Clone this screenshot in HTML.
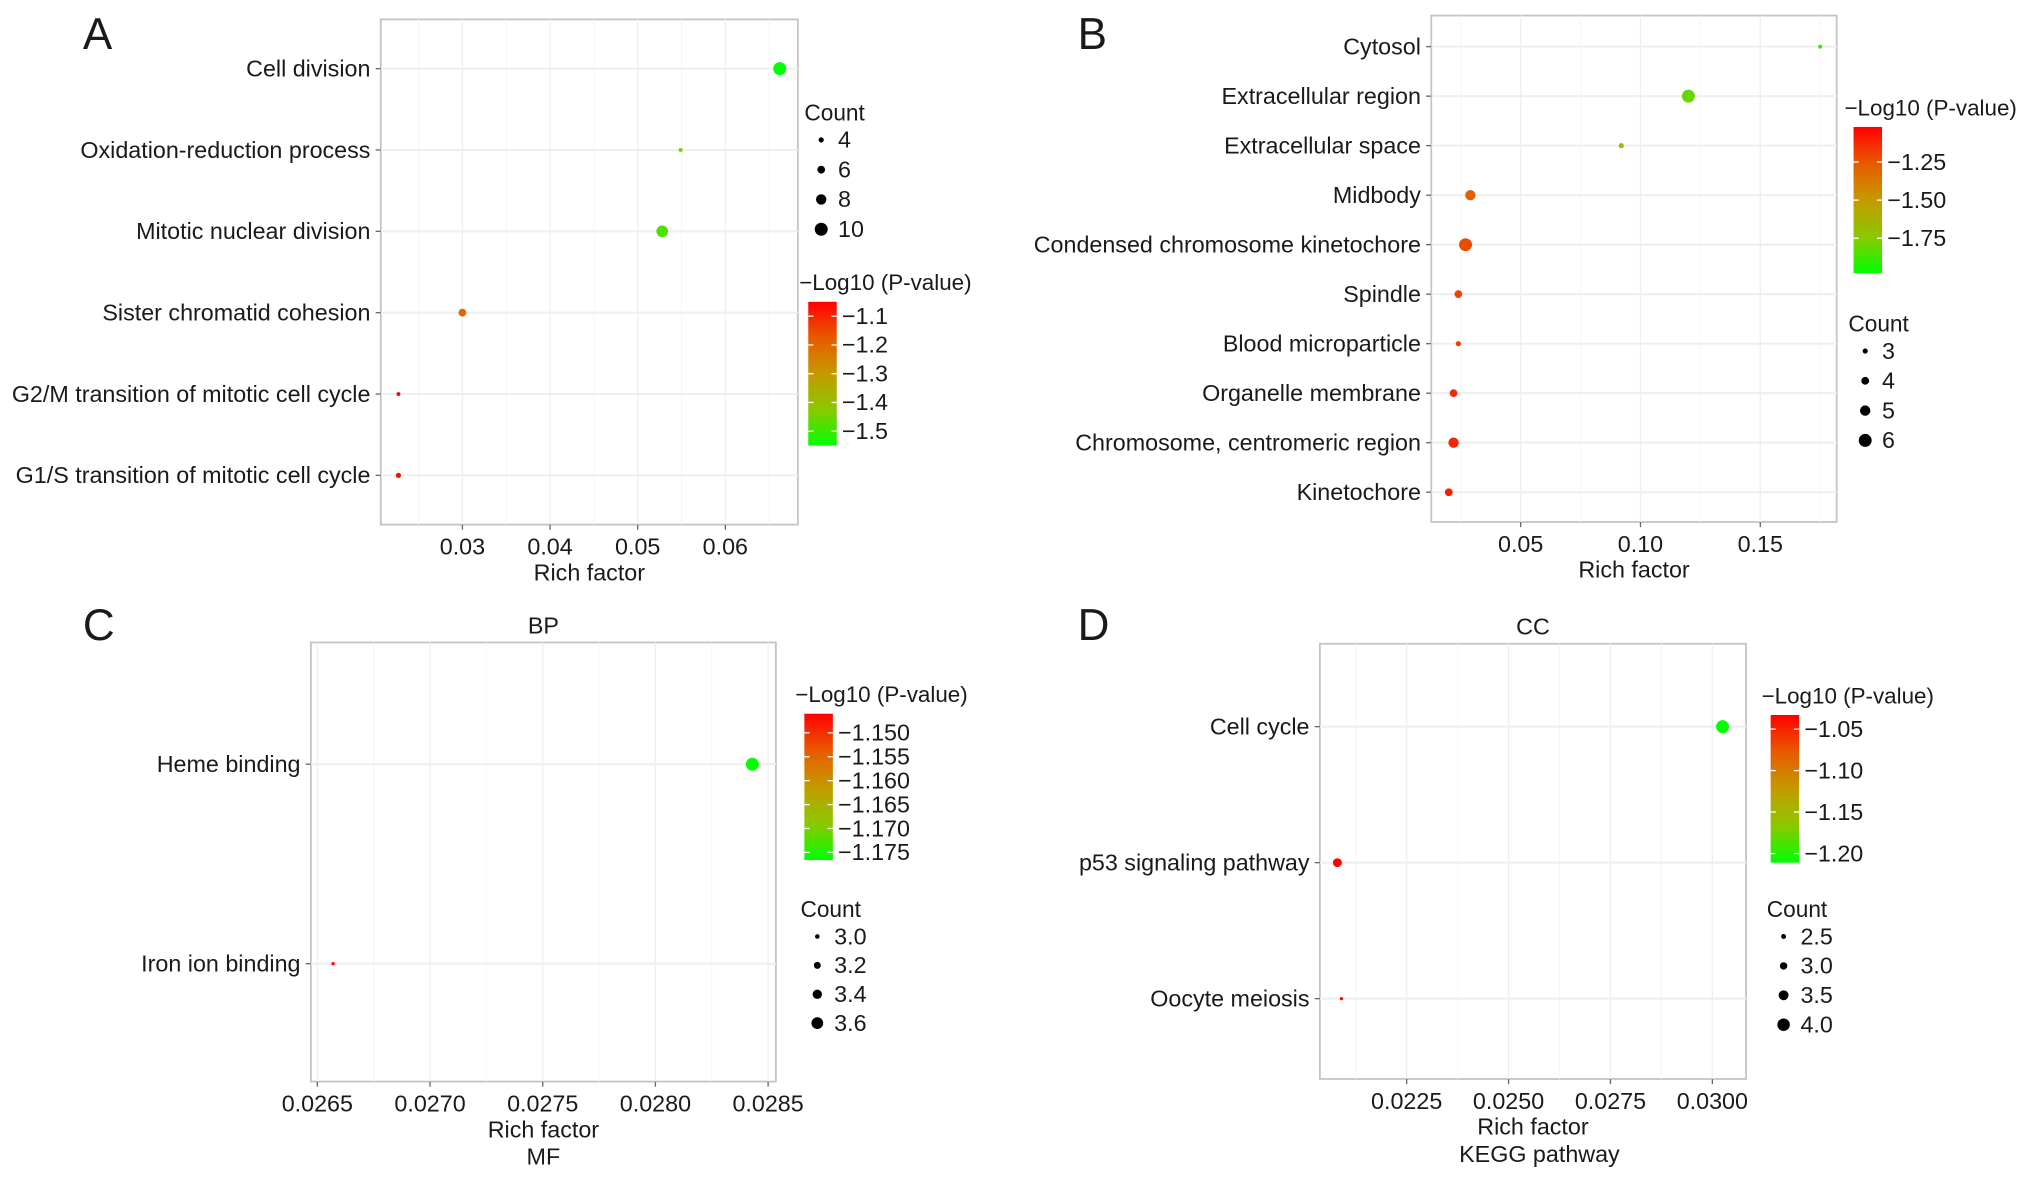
<!DOCTYPE html>
<html><head><meta charset="utf-8"><style>
html,body{margin:0;padding:0;background:#fff;}
svg{display:block;font-family:"Liberation Sans",Arial,sans-serif;}
</style></head><body>
<svg id="fig" width="2031" height="1180" viewBox="0 0 1568 911" xmlns="http://www.w3.org/2000/svg">
<defs>
<linearGradient id="cg" x1="0" y1="0" x2="0" y2="1">
<stop offset="0" stop-color="#ff0000"/><stop offset="0.25" stop-color="#e85a00"/><stop offset="0.5" stop-color="#c49a00"/><stop offset="0.75" stop-color="#8cc800"/><stop offset="1" stop-color="#00ff00"/>
</linearGradient>
</defs>
</svg>
<script>
// Panel A
const aCats=["Cell division","Oxidation-reduction process","Mitotic nuclear division","Sister chromatid cohesion","G2/M transition of mitotic cell cycle","G1/S transition of mitotic cell cycle"];
const aRich=[0.0662,0.0549,0.0528,0.0300,0.0227,0.0227];
const aCount=[10,3,9,6,3,4];
const aLogP=[-1.55,-1.45,-1.48,-1.20,-1.05,-1.07];
const aXTicks=[0.03,0.04,0.05,0.06];
const aXTickLabels=["0.03","0.04","0.05","0.06"];
const aColorTicks=[-1.1,-1.2,-1.3,-1.4,-1.5];
const aColorTickLabels=["\u22121.1","\u22121.2","\u22121.3","\u22121.4","\u22121.5"];
const aSizeTicks=[4,6,8,10];
// Panel B
const bCats=["Cytosol","Extracellular region","Extracellular space","Midbody","Condensed chromosome kinetochore","Spindle","Blood microparticle","Organelle membrane","Chromosome, centromeric region","Kinetochore"];
const bRich=[0.175,0.120,0.092,0.029,0.027,0.024,0.024,0.022,0.022,0.020];
const bCount=[2.5,6,3,5,6,4,3,4,5,4];
const bLogP=[-1.9,-1.8,-1.7,-1.28,-1.22,-1.2,-1.18,-1.12,-1.12,-1.1];
const bXTicks=[0.05,0.10,0.15];
const bXTickLabels=["0.05","0.10","0.15"];
const bColorTicks=[-1.25,-1.50,-1.75];
const bColorTickLabels=["\u22121.25","\u22121.50","\u22121.75"];
const bSizeTicks=[3,4,5,6];
// Panel C
const cCats=["Heme binding","Iron ion binding"];
const cRich=[0.02843,0.02657];
const cCount=[3.7,2.9];
const cLogP=[-1.177,-1.147];
const cXTicks=[0.0265,0.0270,0.0275,0.0280,0.0285];
const cXTickLabels=["0.0265","0.0270","0.0275","0.0280","0.0285"];
const cColorTicks=[-1.150,-1.155,-1.160,-1.165,-1.170,-1.175];
const cColorTickLabels=["\u22121.150","\u22121.155","\u22121.160","\u22121.165","\u22121.170","\u22121.175"];
const cSizeTicks=[3.0,3.2,3.4,3.6];
const cSizeTickLabels=["3.0","3.2","3.4","3.6"];
// Panel D
const dCats=["Cell cycle","p53 signaling pathway","Oocyte meiosis"];
const dRich=[0.03025,0.0208,0.0209];
const dCount=[4.1,3.3,2.2];
const dLogP=[-1.21,-1.035,-1.04];
const dXTicks=[0.0225,0.0250,0.0275,0.0300];
const dXTickLabels=["0.0225","0.0250","0.0275","0.0300"];
const dColorTicks=[-1.05,-1.10,-1.15,-1.20];
const dColorTickLabels=["\u22121.05","\u22121.10","\u22121.15","\u22121.20"];
const dSizeTicks=[2.5,3.0,3.5,4.0];
const dSizeTickLabels=["2.5","3.0","3.5","4.0"];

const svg=document.getElementById('fig');
const NS="http://www.w3.org/2000/svg";
function mk(tag,attrs,parent){const e=document.createElementNS(NS,tag);for(const k in attrs)e.setAttribute(k,attrs[k]);(parent||svg).appendChild(e);return e;}
function txt(s,x,y,size,anchor,parent,name){const t=mk('text',{x:x,y:y,'font-size':size,'text-anchor':anchor||'start',fill:'#1a1a1a'},parent);t.textContent=s;


return t;}
const stops=[[255,0,0],[232,90,0],[196,154,0],[140,200,0],[0,255,0]];
function colorAt(f){f=Math.max(0,Math.min(1,f));const p=f*4;const i=Math.min(3,Math.floor(p));const r=p-i;const a=stops[i],b=stops[i+1];return 'rgb('+a.map((v,k)=>Math.round(v+(b[k]-v)*r)).join(',')+')';}

function panel(o){
  const g=mk('g',{});
  
  
  const xs=v=>o.px0+(v-o.x0)/(o.x1-o.x0)*(o.px1-o.px0);
  const ys=i=>o.py[0]+i*(o.py[1]-o.py[0])/(o.cats.length-1);
  const box=mk('rect',{x:o.bx0,y:o.by0,width:o.bx1-o.bx0,height:o.by1-o.by0,fill:'#fff',stroke:'#c4c4c4','stroke-width':1.4},g);
  
  
  const step=o.xTicks[1]-o.xTicks[0];
  for(let k=-1;k<o.xTicks.length;k++){const v=o.xTicks[0]+(k+0.5)*step;const x=xs(v);if(x>o.bx0&&x<o.bx1){const l=mk('line',{x1:x,x2:x,y1:o.by0,y2:o.by1,stroke:'#f5f5f5','stroke-width':0.8},g);}}
  o.xTicks.forEach((v,i)=>{const x=xs(v);
    const l=mk('line',{x1:x,x2:x,y1:o.by0,y2:o.by1,stroke:'#efefef','stroke-width':1},g);
    
    
    mk('line',{x1:x,x2:x,y1:o.by1,y2:o.by1+4,stroke:'#666','stroke-width':1},g);
    txt(o.xTickLabels[i],x,o.by1+23,18,'middle',g,'x-tick-label');});
  o.cats.forEach((c,i)=>{const y=ys(i);
    const l=mk('line',{x1:o.bx0,x2:o.bx1,y1:y,y2:y,stroke:'#efefef','stroke-width':1.6},g);
    
    
    mk('line',{x1:o.bx0-4,x2:o.bx0,y1:y,y2:y,stroke:'#666','stroke-width':1},g);
    txt(c,o.bx0-8,y+6,18,'end',g,'y-tick-label');});
  const cmin=o.sizeDom[0],cmax=o.sizeDom[1];
  const rs=c=>o.rr[0]+(Math.max(cmin,Math.min(cmax,c))-cmin)/(cmax-cmin)*(o.rr[1]-o.rr[0]);
  const cf=v=>(o.cTop-v)/(o.cTop-o.cBot);
  o.rich.forEach((v,i)=>{const c=mk('circle',{cx:xs(v),cy:ys(i),r:rs(o.count[i]),fill:colorAt(cf(o.logp[i]))},g);
    
    });
  txt('Rich factor',(o.bx0+o.bx1)/2,o.by1+43,18,'middle',g,'x-axis-title');
  if(o.sub) txt(o.sub,(o.bx0+o.bx1)/2+(o.subdx||0),o.by1+64,18,'middle',g,'x-axis-subtitle');
  if(o.title) txt(o.title,(o.bx0+o.bx1)/2,o.by0-7,18,'middle',g,'panel-title');
  txt(o.letter,o.lx,o.ly,34,'start',g,'panel-letter');
  txt('\u2212Log10 (P-value)',o.cbx-7,o.cby0-9,17.3,'start',g,'color-legend-title');
  const cb=mk('rect',{x:o.cbx,y:o.cby0,width:22,height:o.cby1-o.cby0,fill:'url(#cg)'},g);
  
  
  o.cTicks.forEach((v,i)=>{const y=o.cby0+cf(v)*(o.cby1-o.cby0);
    mk('line',{x1:o.cbx,x2:o.cbx+4,y1:y,y2:y,stroke:'#fff','stroke-width':1},g);
    mk('line',{x1:o.cbx+18,x2:o.cbx+22,y1:y,y2:y,stroke:'#fff','stroke-width':1},g);
    txt(o.cTickLabels[i],o.cbx+26,y+6,18,'start',g,'color-tick-label');});
  txt('Count',o.sx-6,o.sy0-15,17.5,'start',g,'size-legend-title');
  o.sTicks.forEach((v,i)=>{const y=o.sy0+i*o.sdy;
    const c=mk('circle',{cx:o.sx+7,cy:y,r:rs(v),fill:'#000'},g);
    
    
    txt(o.sTickLabels?o.sTickLabels[i]:String(v),o.sx+20,y+6,18,'start',g,'size-legend-label');});
}
panel({name:'panel-a',letter:'A',lx:64,ly:38,cats:aCats,rich:aRich,count:aCount,logp:aLogP,xTicks:aXTicks,xTickLabels:aXTickLabels,
 x0:0.03,x1:0.06,px0:357,px1:560,bx0:294,bx1:616,by0:15,by1:405,py:[53,367],sizeDom:[3,10],rr:[1.5,5],
 cTop:-1.05,cBot:-1.55,cTicks:aColorTicks,cTickLabels:aColorTickLabels,cbx:624,cby0:233,cby1:344,sx:627,sy0:108,sdy:23,sTicks:aSizeTicks});
panel({name:'panel-b',letter:'B',lx:832,ly:38,cats:bCats,rich:bRich,count:bCount,logp:bLogP,xTicks:bXTicks,xTickLabels:bXTickLabels,
 x0:0.05,x1:0.15,px0:1174,px1:1359,bx0:1105,bx1:1418,by0:12,by1:403,py:[36,380],sizeDom:[2.5,6],rr:[1.5,5],
 cTop:-1.02,cBot:-1.98,cTicks:bColorTicks,cTickLabels:bColorTickLabels,cbx:1431,cby0:98,cby1:211,sx:1433,sy0:271,sdy:23,sTicks:bSizeTicks});
panel({name:'panel-c',letter:'C',lx:64,ly:494,title:'BP',sub:'MF',cats:cCats,rich:cRich,count:cCount,logp:cLogP,xTicks:cXTicks,xTickLabels:cXTickLabels,
 x0:0.0265,x1:0.0285,px0:245,px1:593,bx0:240,bx1:599,by0:496,by1:835,py:[590,744],sizeDom:[2.9,3.7],rr:[1.3,5],
 cTop:-1.146,cBot:-1.1766,cTicks:cColorTicks,cTickLabels:cColorTickLabels,cbx:621,cby0:551,cby1:664,sx:624,sy0:723,sdy:22.3,sTicks:cSizeTicks,sTickLabels:cSizeTickLabels});
panel({name:'panel-d',letter:'D',lx:832,ly:494,title:'CC',sub:'KEGG pathway',subdx:5,cats:dCats,rich:dRich,count:dCount,logp:dLogP,xTicks:dXTicks,xTickLabels:dXTickLabels,
 x0:0.0225,x1:0.0300,px0:1086,px1:1322,bx0:1019,bx1:1348,by0:497,by1:833,py:[561,771],sizeDom:[2.2,4.1],rr:[1.3,5],
 cTop:-1.033,cBot:-1.211,cTicks:dColorTicks,cTickLabels:dColorTickLabels,cbx:1367,cby0:552,cby1:666,sx:1370,sy0:723,sdy:22.7,sTicks:dSizeTicks,sTickLabels:dSizeTickLabels});
</script>
</body></html>
